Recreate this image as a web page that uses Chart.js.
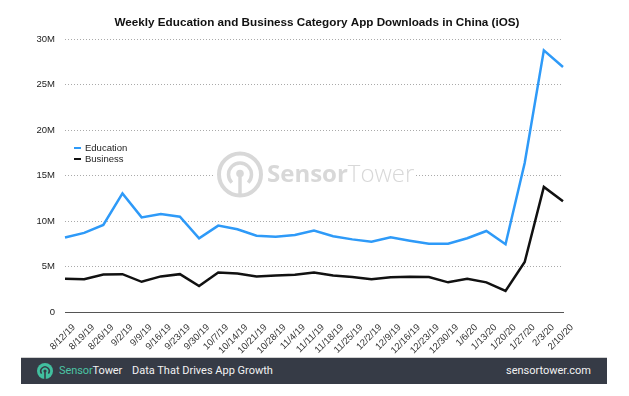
<!DOCTYPE html>
<html>
<head>
<meta charset="utf-8">
<script src="https://cdn.jsdelivr.net/npm/chart.js@4.4.1/dist/chart.umd.min.js"></script>
<style>
  body { margin: 0; background: #fff; width: 629px; height: 396px; position: relative; overflow: hidden; }
  #wrap { position: absolute; left: 0; top: 0; width: 629px; height: 357px; }
  #footer {
    position: absolute; left: 21px; top: 357px; width: 586px; height: 27px;
    background: #363b46; border-top: 1px solid #d0d0d0; box-sizing: border-box;
    font-family: Roboto, "Open Sans", sans-serif; font-size: 11px; color: #f2f2f2;
  }
  #footer svg { position: absolute; left: 16px; top: 5px; }
  #brand { position: absolute; left: 38px; top: 6px; letter-spacing: -0.1px; }
  #brand .s { color: #4cc4a4; }
  #tagline { position: absolute; left: 111px; top: 6px; }
  #site { position: absolute; right: 16px; top: 6px; }
</style>
</head>
<body>
<div id="wrap"><canvas id="chart" width="629" height="357"></canvas></div>
<div id="footer">
  <svg width="16" height="16" viewBox="0 0 16 16">
    <circle cx="8" cy="8" r="8" fill="#41bf9f"/>
    <path d="M4.6 10.6 A4.2 4.2 0 1 1 11.4 10.6" fill="none" stroke="#363b46" stroke-width="1.6"/>
    <circle cx="8" cy="8" r="1.6" fill="#363b46"/>
    <line x1="8" y1="8" x2="8" y2="16" stroke="#363b46" stroke-width="1.6"/>
  </svg>
  <span id="brand"><span class="s">Sensor</span>Tower</span>
  <span id="tagline">Data That Drives App Growth</span>
  <span id="site">sensortower.com</span>
</div>
<script>
const dates = ["8/12/19", "8/19/19", "8/26/19", "9/2/19", "9/9/19", "9/16/19", "9/23/19", "9/30/19",
  "10/7/19", "10/14/19", "10/21/19", "10/28/19", "11/4/19", "11/11/19", "11/18/19", "11/25/19",
  "12/2/19", "12/9/19", "12/16/19", "12/23/19", "12/30/19", "1/6/20", "1/13/20", "1/20/20",
  "1/27/20", "2/3/20", "2/10/20"];

const education = [8180000, 8690000, 9560000, 13030000, 10400000, 10770000, 10470000, 8100000,
  9490000, 9090000, 8390000, 8280000, 8470000, 8940000, 8320000, 7980000,
  7730000, 8210000, 7840000, 7510000, 7510000, 8100000, 8900000, 7440000,
  16370000, 28750000, 26920000];

const business = [3650000, 3610000, 4120000, 4160000, 3320000, 3910000, 4160000, 2850000,
  4340000, 4230000, 3910000, 4010000, 4090000, 4340000, 4000000, 3850000,
  3590000, 3810000, 3880000, 3850000, 3260000, 3660000, 3260000, 2310000,
  5490000, 13740000, 12160000];

const yTicks = ["0", "5M", "10M", "15M", "20M", "25M", "30M"];

const titleText = "Weekly Education and Business Category App Downloads in China (iOS)";

// title centred on the whole picture, not on the padded chart
const pageTitle = {
  id: "pageTitle",
  afterDraw(chart) {
    const ctx = chart.ctx;
    ctx.save();
    ctx.font = "bold 11.7px 'Liberation Sans'";
    ctx.fillStyle = "#111";
    ctx.textAlign = "center";
    ctx.textBaseline = "middle";
    ctx.fillText(titleText, 317, 22.5);
    ctx.restore();
  }
};

// watermark behind the lines
const watermark = {
  id: "watermark",
  beforeDatasetsDraw(chart) {
    const ctx = chart.ctx;
    const cx = 240, cy = 174.5;
    ctx.save();
    ctx.fillStyle = "#fff";
    ctx.fillRect(213, 150, 202, 50);
    ctx.strokeStyle = "#d8d8d8";
    ctx.fillStyle = "#d8d8d8";
    ctx.lineWidth = 4;
    ctx.beginPath();
    ctx.arc(cx, cy, 21, 0, Math.PI * 2);
    ctx.stroke();
    ctx.lineWidth = 3.5;
    ctx.beginPath();
    ctx.arc(cx, cy, 11.5, Math.PI * 0.75, Math.PI * 0.25);
    ctx.stroke();
    ctx.beginPath();
    ctx.arc(cx, cy - 1, 3.8, 0, Math.PI * 2);
    ctx.fill();
    ctx.beginPath();
    ctx.moveTo(cx, cy);
    ctx.lineTo(cx, cy + 20);
    ctx.stroke();
    ctx.textBaseline = "middle";
    ctx.font = "bold 24px 'Open Sans'";
    ctx.fillText("Sensor", 267, cy + 1);
    const w = ctx.measureText("Sensor").width;
    ctx.font = "300 24px 'Open Sans'";
    ctx.fillText("Tower", 267 + w, cy + 1);
    ctx.restore();
  }
};

const legendBox = {
  id: "legendBox",
  afterDraw(chart) {
    const ctx = chart.ctx;
    ctx.save();
    ctx.font = "9.5px 'Liberation Sans'";
    ctx.textBaseline = "middle";
    chart.data.datasets.forEach((ds, i) => {
      const y = 148 + i * 11;
      ctx.fillStyle = ds.borderColor;
      ctx.fillRect(74, y - 1, 7, 2);
      ctx.fillStyle = "#222";
      ctx.fillText(ds.label, 85, y);
    });
    ctx.restore();
  }
};

new Chart(document.getElementById("chart"), {
  type: "line",
  data: {
    labels: dates,
    datasets: [{
      label: "Education",
      data: education,
      borderColor: "#2e9af8",
      borderWidth: 2.5,
      pointRadius: 0,
      tension: 0
    }, {
      label: "Business",
      data: business,
      borderColor: "#111111",
      borderWidth: 2.5,
      pointRadius: 0,
      tension: 0
    }]
  },
  options: {
    responsive: false,
    animation: false,
    layout: { padding: { left: 0, right: 66, top: 39, bottom: 0 } },
    plugins: {
      legend: { display: false },
      tooltip: { enabled: false },
      title: { display: false }
    },
    scales: {
      x: {
        grid: { display: false },
        border: { display: true, color: "#555", width: 1 },
        ticks: {
          color: "#333",
          font: { family: "'Liberation Sans'", size: 9.5 },
          minRotation: 45,
          maxRotation: 45,
          autoSkip: false,
          labelOffset: 9,
          padding: 2
        },
        afterFit(scale) { scale.height = 45; }
      },
      y: {
        min: 0,
        max: 30000000,
        border: { display: false, dash: [1, 2] },
        grid: {
          drawTicks: false,
          color: (c) => c.tick && c.tick.value === 0 ? "rgba(0,0,0,0)" : "#aaa",
          lineWidth: 1
        },
        ticks: {
          stepSize: 5000000,
          color: "#222",
          padding: 10,
          font: { family: "'Liberation Sans'", size: 9.5 },
          callback: (v, i) => yTicks[i]
        },
        afterFit(scale) { scale.width = 65; }
      }
    }
  },
  plugins: [watermark, legendBox, pageTitle]
});
</script>
</body>
</html>
